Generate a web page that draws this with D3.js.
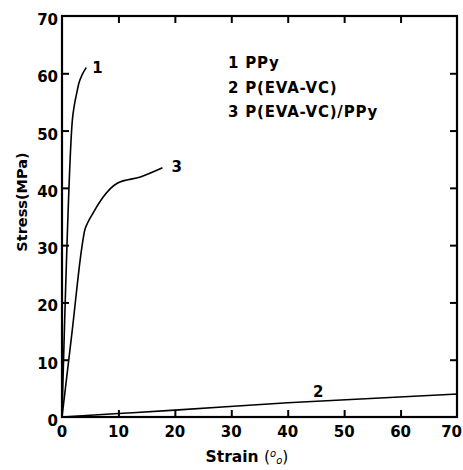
<!DOCTYPE html>
<html>
<head>
<meta charset="utf-8">
<script src="https://cdn.jsdelivr.net/npm/d3@7"></script>
<style>
    body { margin: 0; background: #fff; }
    svg text { font-family: "DejaVu Sans", sans-serif; font-weight: bold; fill: #000; }
</style>
</head>
<body>
<svg id="chart" width="463" height="470"></svg>
<script>
//data
var ppyStrain = [0, 1.85, 2.2, 2.6, 3.0, 3.6, 4.3];
var ppyStress = [0, 52, 54.5, 56.5, 58.3, 59.8, 61];

var evaStrain = [0, 10, 20, 40, 70];
var evaStress = [0, 0.6, 1.2, 2.5, 4.0];

var blendStrain = [0, 1.8, 3.5, 4.0, 4.6, 5.5, 7.3, 9.8, 13.9, 17.8];
var blendStress = [0, 15, 29.5, 32.5, 34, 35.6, 38.4, 40.8, 41.9, 43.5];

var legendItems = ['1 PPy', '2 P(EVA-VC)', '3 P(EVA-VC)/PPy'];
var ticks = [0, 10, 20, 30, 40, 50, 60, 70];

var svg = d3.select('#chart');
var x = d3.scaleLinear().domain([0, 70]).range([62, 457]);
var y = d3.scaleLinear().domain([0, 70]).range([417, 16]);

var tickLen = 7;

//frame
svg.append('rect')
    .attr('x', x(0)).attr('y', y(70))
    .attr('width', x(70) - x(0)).attr('height', y(0) - y(70))
    .attr('fill', 'none').attr('stroke', '#000').attr('stroke-width', 2.2);

//inward ticks via axes, one per side
var inner = ticks.slice(1, -1);
svg.append('g').attr('transform', 'translate(0,' + y(0) + ')')
    .call(d3.axisTop(x).tickValues(inner).tickSize(tickLen).tickFormat(''));
svg.append('g').attr('transform', 'translate(0,' + y(70) + ')')
    .call(d3.axisBottom(x).tickValues(inner).tickSize(tickLen).tickFormat(''));
svg.append('g').attr('transform', 'translate(' + x(0) + ',0)')
    .call(d3.axisRight(y).tickValues(inner).tickSize(tickLen).tickFormat(''));
svg.append('g').attr('transform', 'translate(' + x(70) + ',0)')
    .call(d3.axisLeft(y).tickValues(inner).tickSize(tickLen).tickFormat(''));
svg.selectAll('.domain').remove();
svg.selectAll('.tick line').attr('stroke', '#000').attr('stroke-width', 2);

//tick labels (last one kept inside the window)
svg.selectAll('.xlab').data(ticks).enter().append('text')
    .attr('class', 'xlab')
    .attr('x', function (d) { return d === 70 ? 462 : x(d); })
    .attr('y', 437)
    .attr('text-anchor', function (d) { return d === 70 ? 'end' : 'middle'; })
    .style('font-size', '15px')
    .text(function (d) { return d; });

svg.selectAll('.ylab').data(ticks).enter().append('text')
    .attr('class', 'ylab')
    .attr('x', 58)
    .attr('y', function (d) { return y(d) + 9; })
    .attr('text-anchor', 'end')
    .style('font-size', '15px')
    .text(function (d) { return d; });

//axis titles
svg.append('text')
    .attr('transform', 'translate(27,202) rotate(-90)')
    .attr('text-anchor', 'middle')
    .style('font-size', '14.5px')
    .text('Stress(MPa)');

var xt = svg.append('text')
    .attr('x', 247).attr('y', 462)
    .attr('text-anchor', 'middle')
    .style('font-size', '15.5px');
xt.append('tspan').text('Strain ');
xt.append('tspan').style('font-weight', 'normal').text('(');
xt.append('tspan').style('font-weight', 'normal').style('font-style', 'italic')
    .style('font-size', '10px').attr('dy', -5).text('o');
xt.append('tspan').style('font-weight', 'normal').style('font-style', 'italic')
    .style('font-size', '10px').attr('dy', 7).text('o');
xt.append('tspan').style('font-weight', 'normal').attr('dy', -2).text(')');

//curves
var line = d3.line()
    .x(function (d) { return x(d[0]); })
    .y(function (d) { return y(d[1]); })
    .curve(d3.curveMonotoneX);

function pairs(xs, ys) {
    return xs.map(function (v, i) { return [v, ys[i]]; });
}

[pairs(ppyStrain, ppyStress), pairs(evaStrain, evaStress), pairs(blendStrain, blendStress)]
    .forEach(function (pts) {
        svg.append('path')
            .attr('d', line(pts))
            .attr('fill', 'none')
            .attr('stroke', '#000')
            .attr('stroke-width', 1.6);
    });

//curve numbers
var curveLabels = [
    { t: '1', sx: 4.3, sy: 61, dx: 6, dy: 5 },
    { t: '2', sx: 44.5, sy: 3.0, dx: 0, dy: -3 },
    { t: '3', sx: 17.8, sy: 43.5, dx: 9, dy: 4 }
];
svg.selectAll('.clab').data(curveLabels).enter().append('text')
    .attr('class', 'clab')
    .attr('x', function (d) { return x(d.sx) + d.dx; })
    .attr('y', function (d) { return y(d.sy) + d.dy; })
    .style('font-size', '15px')
    .text(function (d) { return d.t; });

//legend
svg.selectAll('.leg').data(legendItems).enter().append('text')
    .attr('class', 'leg')
    .attr('x', 228)
    .attr('y', function (d, i) { return 68 + i * 24.5; })
    .style('font-size', '15px')
    .style('letter-spacing', '0.8px')
    .text(function (d) { return d; });
</script>
</body>
</html>
